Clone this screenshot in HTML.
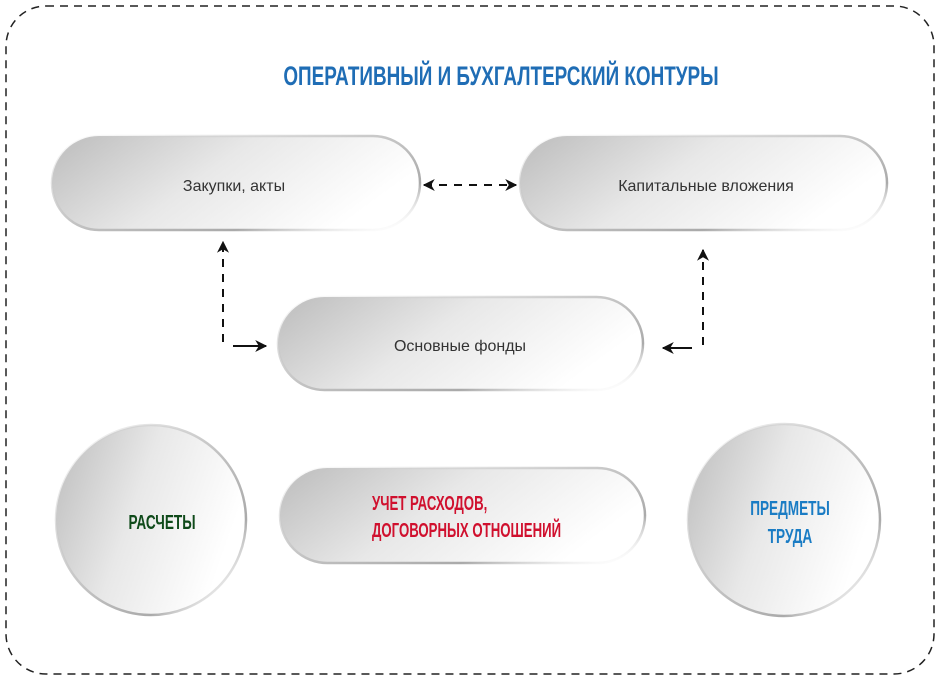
<!DOCTYPE html>
<html><head><meta charset="utf-8"><style>
body{margin:0;background:#fff;}
svg text{font-family:"Liberation Sans",sans-serif;}
</style></head><body>
<svg width="940" height="680" viewBox="0 0 940 680" xmlns="http://www.w3.org/2000/svg">
<defs>
<linearGradient id="g" x1="0" y1="0" x2="1" y2="0.35">
<stop offset="0" stop-color="#bcbcbc"/><stop offset="0.5" stop-color="#e8e8e8"/><stop offset="1" stop-color="#ffffff"/>
</linearGradient>
<linearGradient id="rim" x1="0" y1="0" x2="1" y2="1">
<stop offset="0" stop-color="#ccc" stop-opacity="0"/><stop offset="0.45" stop-color="#c8c8c8"/><stop offset="0.75" stop-color="#aaa"/><stop offset="1" stop-color="#fff" stop-opacity="0"/>
</linearGradient>
<marker id="ah" viewBox="0 0 10 10" refX="9" refY="5" markerWidth="12" markerHeight="12" orient="auto-start-reverse" markerUnits="userSpaceOnUse"><path d="M0,0 L10,5 L0,10 L3,5 z" fill="#111"/></marker>
</defs>
<rect x="6" y="6" width="928" height="668" rx="40" fill="none" stroke="#222" stroke-width="1.5" stroke-dasharray="8,6"/>
<text x="501" y="85" text-anchor="middle" font-size="27" font-weight="bold" fill="#1f6db5" transform="translate(501,0) scale(0.7,1) translate(-501,0)">ОПЕРАТИВНЫЙ И БУХГАЛТЕРСКИЙ КОНТУРЫ</text>

<g stroke="url(#rim)" stroke-width="2.5" fill="url(#g)">
<rect x="52" y="136" width="368" height="94" rx="47"/>
<rect x="520" y="136" width="367" height="94" rx="47"/>
<rect x="278" y="297" width="365" height="93" rx="46.5"/>
<rect x="280" y="468" width="365" height="95" rx="47.5"/>
<circle cx="151" cy="520" r="95"/>
<circle cx="784" cy="520" r="96"/>
</g>

<text x="234" y="191" text-anchor="middle" font-size="16" fill="#333">Закупки, акты</text>
<text x="706" y="191" text-anchor="middle" font-size="16" fill="#333">Капитальные вложения</text>
<text x="460" y="351" text-anchor="middle" font-size="16" fill="#333">Основные фонды</text>

<g font-weight="bold" font-size="20">
<text x="162" y="529" text-anchor="middle" fill="#0f4a1a" transform="translate(162,0) scale(0.68,1) translate(-162,0)">РАСЧЕТЫ</text>
<text x="372" y="510" fill="#d0102e" transform="translate(372,0) scale(0.66,1) translate(-372,0)">УЧЕТ РАСХОДОВ,</text>
<text x="372" y="537" fill="#d0102e" transform="translate(372,0) scale(0.66,1) translate(-372,0)">ДОГОВОРНЫХ ОТНОШЕНИЙ</text>
<text x="790" y="515" text-anchor="middle" fill="#1a7cc4" transform="translate(790,0) scale(0.68,1) translate(-790,0)">ПРЕДМЕТЫ</text>
<text x="790" y="543" text-anchor="middle" fill="#1a7cc4" transform="translate(790,0) scale(0.68,1) translate(-790,0)">ТРУДА</text>
</g>

<g stroke="#111" stroke-width="2" fill="none">
<line x1="424" y1="185" x2="516" y2="185" stroke-dasharray="8,7" marker-start="url(#ah)" marker-end="url(#ah)"/>
<polyline points="223,342 223,242" stroke-dasharray="8,7" marker-end="url(#ah)"/>
<line x1="233" y1="346" x2="266" y2="346" marker-end="url(#ah)"/>
<polyline points="703,345 703,250" stroke-dasharray="8,7" marker-end="url(#ah)"/>
<line x1="692" y1="348" x2="663" y2="348" marker-end="url(#ah)"/>
</g>
</svg>
</body></html>
